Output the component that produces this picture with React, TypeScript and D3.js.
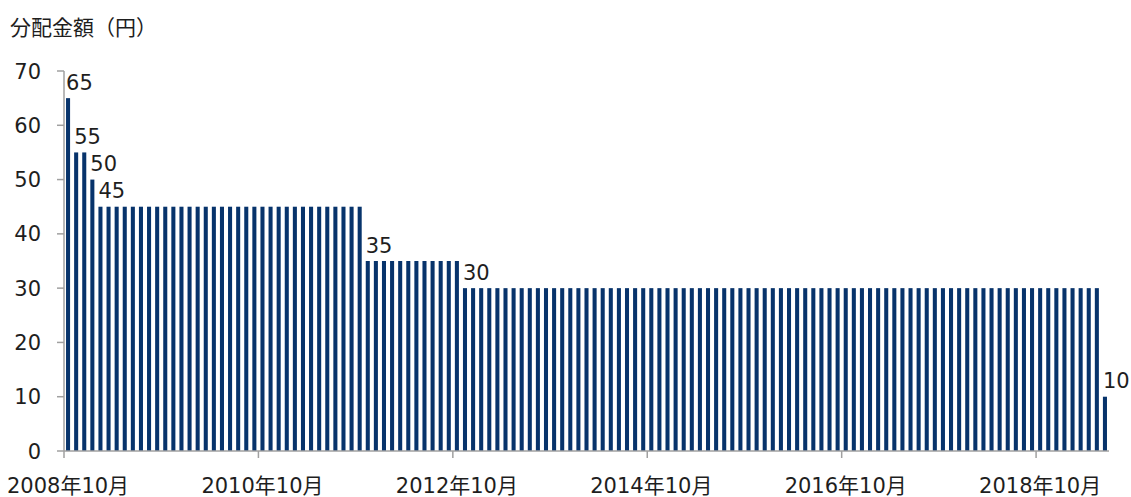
import React from "react";
import * as d3 from "d3";

// Monthly distribution amounts (yen), Oct 2008 – Jun 2019
const START_MONTH = new Date(2008, 9, 1);
const END_MONTH = new Date(2019, 6, 1); // exclusive
const distribution: number[] = [
  65, 55, 55, 50, 45, 45, 45, 45, 45, 45, 45, 45,
  45, 45, 45, 45, 45, 45, 45, 45, 45, 45, 45, 45,
  45, 45, 45, 45, 45, 45, 45, 45, 45, 45, 45, 45,
  45, 35, 35, 35, 35, 35, 35, 35, 35, 35, 35, 35,
  35, 30, 30, 30, 30, 30, 30, 30, 30, 30, 30, 30,
  30, 30, 30, 30, 30, 30, 30, 30, 30, 30, 30, 30,
  30, 30, 30, 30, 30, 30, 30, 30, 30, 30, 30, 30,
  30, 30, 30, 30, 30, 30, 30, 30, 30, 30, 30, 30,
  30, 30, 30, 30, 30, 30, 30, 30, 30, 30, 30, 30,
  30, 30, 30, 30, 30, 30, 30, 30, 30, 30, 30, 30,
  30, 30, 30, 30, 30, 30, 30, 30, 10,
];
const yTicks = [0, 10, 20, 30, 40, 50, 60, 70];
const xTickMonths = ["2008-10", "2010-10", "2012-10", "2014-10", "2016-10", "2018-10"];
const xTickLabels = ["2008年10月", "2010年10月", "2012年10月", "2014年10月", "2016年10月", "2018年10月"];
const yAxisTitle = "分配金額（円）";

const fmt = d3.timeFormat("%Y-%m");
const months = d3.timeMonths(START_MONTH, END_MONTH).map(fmt);

const W = 1131;
const H = 497;
const plotLeft = 64;
const plotRight = 1109;
const plotTop = 71;
const plotBottom = 451;

const FONT = "'DejaVu Sans', 'Noto Sans CJK JP', sans-serif";
const FS = 21;
const BAR = "#07336b";
const AXIS = "#a0a0a0";
const TEXT = "#1e1e1e";

export default function App() {
  const x = d3
    .scaleBand<string>()
    .domain(months)
    .range([plotLeft, plotRight])
    .paddingInner(0.5)
    .paddingOuter(0.25);
  const step = x.step();
  const cellStart = (m: string) => (x(m) as number) - step * 0.25;

  const y = d3.scaleLinear().domain([0, 70]).range([plotBottom, plotTop]);

  const rows = months.map((m, i) => ({ m, v: distribution[i], i }));
  const labelled = rows.filter((r, i) => i === 0 || distribution[i - 1] !== r.v);

  return (
    <svg
      width={W}
      height={H}
      style={{ position: "absolute", left: 0, top: 0, background: "#fff" }}
      fontFamily={FONT}
    >
      <text x={10} y={35} fontSize={FS} fill={TEXT}>
        {yAxisTitle}
      </text>

      {/* bars */}
      {rows.map((r) => (
        <rect
          key={r.m}
          x={x(r.m)}
          y={y(r.v)}
          width={x.bandwidth()}
          height={y(0) - y(r.v)}
          fill={BAR}
        />
      ))}

      {/* value labels where the amount changes */}
      {labelled.map((r) => (
        <text key={"l" + r.m} x={x(r.m)} y={y(r.v) - 8.5} fontSize={FS} fill={TEXT}>
          {r.v}
        </text>
      ))}

      {/* y axis */}
      <line x1={plotLeft} x2={plotLeft} y1={plotTop} y2={plotBottom} stroke={AXIS} strokeWidth={1.5} />
      {yTicks.map((t) => (
        <g key={"y" + t}>
          <line x1={plotLeft - 7} x2={plotLeft} y1={y(t)} y2={y(t)} stroke={AXIS} strokeWidth={1.5} />
          <text x={41} y={y(t)} dy="0.36em" textAnchor="end" fontSize={FS} fill={TEXT}>
            {t}
          </text>
        </g>
      ))}

      {/* x axis */}
      <line x1={plotLeft} x2={plotRight} y1={plotBottom} y2={plotBottom} stroke={AXIS} strokeWidth={1.5} />
      {xTickMonths.map((m, i) => {
        const cx = cellStart(m);
        return (
          <g key={"x" + m}>
            <line x1={cx} x2={cx} y1={plotBottom} y2={plotBottom + 7} stroke={AXIS} strokeWidth={1.5} />
            <text x={cx + step / 2} y={493} textAnchor="middle" fontSize={FS} fill={TEXT}>
              {xTickLabels[i]}
            </text>
          </g>
        );
      })}
    </svg>
  );
}
